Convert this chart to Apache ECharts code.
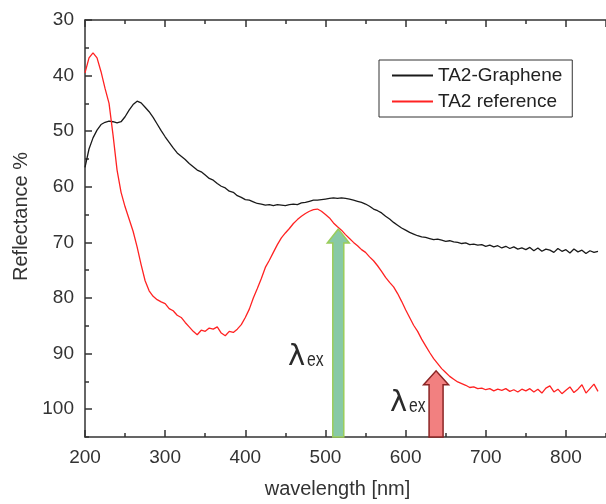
<!DOCTYPE html>
<html><head><meta charset="utf-8">
<script src="https://cdn.jsdelivr.net/npm/echarts@6/dist/echarts.min.js"></script>
<style>html,body{margin:0;padding:0;background:#fff}#c{width:606px;height:504px}</style>
</head><body><div id="c"></div>
<script>
const wavelength = [
200,205,210,215,220,225,230,235,240,245,
250,255,260,265,270,275,280,285,290,295,
300,305,310,315,320,325,330,335,340,345,
350,355,360,365,370,375,380,385,390,395,
400,405,410,415,420,425,430,435,440,445,
450,455,460,465,470,475,480,485,490,495,
500,505,510,515,520,525,530,535,540,545,
550,555,560,565,570,575,580,585,590,595,
600,605,610,615,620,625,630,635,640,645,
650,655,660,665,670,675,680,685,690,695,
700,705,710,715,720,725,730,735,740,745,
750,755,760,765,770,775,780,785,790,795,
800,805,810,815,820,825,830,835,840];
const ta2Graphene = [
56.5,53.2,51.2,49.8,48.8,48.4,48.2,48.3,48.5,48.3,
47.4,46.2,45.2,44.6,44.9,45.7,46.5,47.5,48.7,49.9,
51.0,52.0,53.0,53.9,54.5,55.1,55.8,56.4,57.0,57.3,
57.9,58.5,58.8,59.4,59.9,60.2,60.8,61.0,61.6,61.9,
62.3,62.4,62.7,63.0,63.1,63.3,63.2,63.4,63.2,63.3,
63.4,63.2,63.1,63.2,62.9,62.8,62.6,62.4,62.4,62.3,
62.2,62.1,62.0,62.1,62.0,62.1,62.2,62.4,62.6,62.8,
63.1,63.5,64.0,64.3,64.7,65.3,65.8,66.4,66.9,67.4,
67.8,68.2,68.5,68.8,69.0,69.1,69.3,69.5,69.4,69.6,
69.8,69.7,69.9,70.0,70.2,70.1,70.4,70.3,70.5,70.4,
70.7,70.5,70.8,70.6,71.0,70.7,71.1,70.8,71.2,71.0,
71.3,70.9,71.5,71.0,71.6,71.2,71.4,71.8,71.1,71.6,
71.3,71.9,71.2,71.7,71.4,72.0,71.5,71.8,71.6];
const ta2Reference = [
39.5,36.8,35.9,36.8,39.3,42.3,45.0,50.7,57.0,61.0,
63.6,65.8,68.0,70.8,74.0,76.9,78.7,79.7,80.3,80.7,
81.0,81.9,82.3,83.1,83.5,84.4,85.2,86.0,86.6,85.8,
86.0,85.4,85.6,85.2,86.3,86.8,86.0,86.2,85.6,84.8,
83.5,82.0,80.0,78.3,76.5,74.5,73.2,71.8,70.4,69.2,
68.3,67.5,66.6,65.9,65.3,64.8,64.4,64.1,64.0,64.4,
65.0,65.6,66.5,67.2,67.8,68.6,69.3,70.0,70.6,71.3,
71.8,72.6,73.3,74.2,75.2,76.3,77.2,78.0,79.2,80.6,
82.1,83.5,84.9,86.0,87.4,88.6,89.8,90.9,91.8,92.7,
93.4,94.1,94.6,95.1,95.4,95.7,96.1,96.0,96.3,96.2,
96.5,96.3,96.7,96.4,96.6,96.3,96.8,96.5,96.9,96.4,
96.7,96.3,96.9,96.4,97.1,96.2,95.8,96.9,96.4,97.2,
96.6,96.0,97.0,96.4,95.6,97.1,96.3,95.5,96.8];
const seriesNames = ['TA2-Graphene', 'TA2 reference'];
const excitationWavelength = [516, 638];
const arrowTipValue = [67.6, 93.1];
const xTickValues = [200, 300, 400, 500, 600, 700, 800];
const yTickValues = [30, 40, 50, 60, 70, 80, 90, 100];

const FONT = '"Liberation Sans", Arial, sans-serif';
const AX = '#333';
const arrowStyles = [
  {fill: '#88c9a6', stroke: '#9acd5a', sw: 5.5, hw: 11, hh: 14},
  {fill: '#f28080', stroke: '#8b2525', sw: 7, hw: 12.5, hh: 14}
];
const X_MIN = 200, X_MAX = 850, Y_MIN = 30, Y_MAX = 105;

function pairs(xs, ys) { return xs.map((x, i) => [x, ys[i]]); }

const chart = echarts.init(document.getElementById('c'), null, {renderer: 'canvas'});
const lineCommon = {color: AX, width: 1.5};
function xAx(pos, interval, major) {
  return {
    type: 'value', position: pos, min: X_MIN, max: X_MAX, interval: interval,
    axisLine: {show: major, lineStyle: lineCommon, onZero: false},
    axisTick: {show: true, inside: true, length: major ? 7 : 4, lineStyle: lineCommon},
    axisLabel: {show: major && pos === 'bottom', fontSize: 19, color: '#333', fontFamily: FONT, margin: 11,
      showMaxLabel: false,
      formatter: v => xTickValues.indexOf(v) >= 0 ? String(v) : ''},
    splitLine: {show: false},
    name: (major && pos === 'bottom') ? 'wavelength [nm]' : '',
    nameLocation: 'middle', nameGap: 42,
    nameTextStyle: {fontSize: 20, color: '#333', fontFamily: FONT, padding: [0, 16, 0, 0]}
  };
}
function yAx(interval, major) {
  return {
    type: 'value', position: 'left', inverse: true, min: Y_MIN, max: Y_MAX, interval: interval,
    axisLine: {show: major, lineStyle: lineCommon, onZero: false},
    axisTick: {show: true, inside: true, length: major ? 7 : 4, lineStyle: lineCommon},
    axisLabel: {show: major, fontSize: 19, color: '#333', fontFamily: FONT, margin: 11,
      showMaxLabel: false,
      formatter: v => yTickValues.indexOf(v) >= 0 ? String(v) : ''},
    splitLine: {show: false},
    name: major ? 'Reflectance %' : '',
    nameLocation: 'middle', nameGap: 50,
    nameTextStyle: {fontSize: 20, color: '#333', fontFamily: FONT, padding: [0, 0, 0, 24]}
  };
}

const lamStyle = {text: 'λ', font: '29px "DejaVu Sans", sans-serif', fill: '#2a2a2a', verticalAlign: 'top', align: 'left'};
const exStyle = {text: 'ex', font: '21px "Liberation Sans", sans-serif', fill: '#2a2a2a', verticalAlign: 'top', align: 'left'};

chart.setOption({
  animation: false,
  backgroundColor: '#fff',
  grid: {left: 85, top: 20, right: -9, bottom: 63, containLabel: false},
  xAxis: [xAx('bottom', 100, true), xAx('bottom', 50, false), xAx('top', 100, true), xAx('top', 50, false)],
  yAxis: [yAx(10, true), yAx(5, false)],
  legend: {
    orient: 'vertical', left: 379, top: 60,
    borderColor: '#333', borderWidth: 1, borderRadius: 0,
    padding: [6, 10, 6, 13], itemGap: 7, itemWidth: 41, itemHeight: 2,
    textStyle: {fontSize: 19, color: '#222', fontFamily: FONT, lineHeight: 19},
    data: seriesNames.map(n => ({name: n, icon: 'rect'}))
  },
  series: [
    {name: seriesNames[0], type: 'line', xAxisIndex: 0, yAxisIndex: 0, showSymbol: false, symbol: 'none',
      data: pairs(wavelength, ta2Graphene), lineStyle: {color: '#1a1a1a', width: 1.3}, itemStyle: {color: '#1a1a1a'}, z: 3},
    {name: seriesNames[1], type: 'line', xAxisIndex: 0, yAxisIndex: 0, showSymbol: false, symbol: 'none',
      data: pairs(wavelength, ta2Reference), lineStyle: {color: '#ff2222', width: 1.3}, itemStyle: {color: '#ff2222'}, z: 3},
    {type: 'custom', xAxisIndex: 0, yAxisIndex: 0, z: 4,
      data: pairs(excitationWavelength, arrowTipValue),
      encode: {x: 0, y: 1},
      renderItem: function (params, api) {
        const s = arrowStyles[params.dataIndex];
        const tip = api.coord([api.value(0), api.value(1)]);
        const bot = api.coord([api.value(0), Y_MAX]);
        const cx = tip[0], ty = tip[1], by = bot[1];
        return {
          type: 'polygon',
          shape: {points: [[cx - s.sw, by], [cx - s.sw, ty + s.hh], [cx - s.hw, ty + s.hh], [cx, ty],
            [cx + s.hw, ty + s.hh], [cx + s.sw, ty + s.hh], [cx + s.sw, by]]},
          style: {fill: s.fill, stroke: s.stroke, lineWidth: 1.5}
        };
      }
    }
  ],
  graphic: [
    {type: 'text', x: 288, y: 343, style: lamStyle},
    {type: 'text', x: 307, y: 350, scaleX: 0.75, style: exStyle},
    {type: 'text', x: 390, y: 389, style: lamStyle},
    {type: 'text', x: 409, y: 396, scaleX: 0.75, style: exStyle}
  ]
});
</script></body></html>
